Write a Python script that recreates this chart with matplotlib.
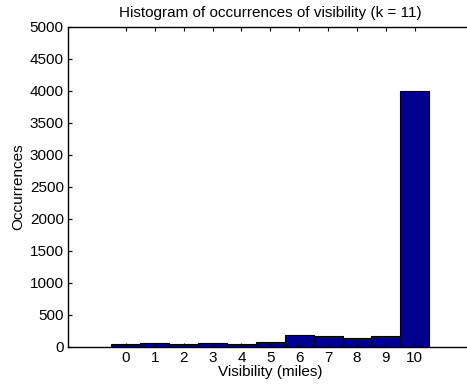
import numpy as np
import matplotlib
matplotlib.use("Agg")
import matplotlib.pyplot as plt

plt.rcParams['font.family'] = ['Liberation Sans', 'DejaVu Sans']

# visibility bins and counts
visibility = [0, 1, 2, 3, 4, 5, 6, 7, 8, 9, 10]
occurrences = [45, 60, 40, 65, 50, 80, 185, 165, 135, 175, 4005]

fig = plt.figure(figsize=(4.67, 3.89), dpi=100)
ax = fig.add_axes([68 / 467, 42 / 389, 404.6 / 467, 320 / 389])

ax.bar(visibility, occurrences, width=1.0, color='#000090', edgecolor='black', linewidth=0.8)

ax.set_xlim(-2, 12)
ax.set_ylim(0, 5000)
ax.set_xticks(visibility)
ax.set_yticks(np.arange(0, 5001, 500))
ax.tick_params(direction='in', top=True, right=True, length=3, labelsize=11, pad=3)
for s in ax.spines.values():
    s.set_linewidth(1.0)

ax.set_title('Histogram of occurrences of visibility (k = 11)', fontsize=11, pad=7)
ax.set_xlabel('Visibility (miles)', fontsize=11, labelpad=0)
ax.set_ylabel('Occurrences', fontsize=11, labelpad=3)

fig.savefig('out.png', dpi=100)
